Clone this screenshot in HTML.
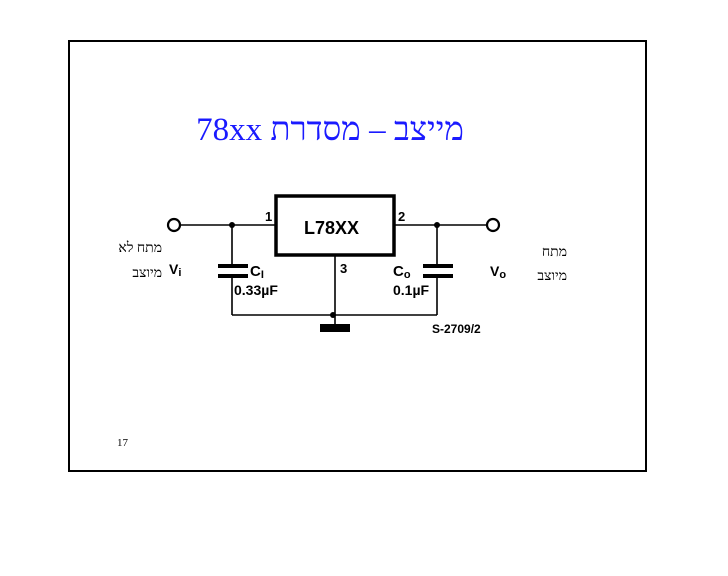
<!DOCTYPE html>
<html><head><meta charset="utf-8"><style>
body{margin:0;width:728px;height:576px;background:#fff;position:relative;overflow:hidden}
.f{position:absolute;left:68px;top:40px;width:575px;height:428px;border:2px solid #000}
.t{position:absolute;font-family:"Liberation Serif","Noto Serif CJK SC",serif;direction:rtl;white-space:nowrap}
</style></head><body>
<div class="f"></div>
<div class="t" style="left:192px;width:276px;top:112px;font-size:33px;color:#1a1aff;text-align:center">מייצב – מסדרת 78xx</div>
<div class="t" style="right:566px;top:241px;font-size:14px">מתח לא</div>
<div class="t" style="right:566px;top:266px;font-size:14px">מיוצב</div>
<div class="t" style="right:161px;top:245px;font-size:14px">מתח</div>
<div class="t" style="right:161px;top:269px;font-size:14px">מיוצב</div>
<div class="t" style="left:117px;top:437px;font-size:11px;direction:ltr">17</div>
<svg width="728" height="576" style="position:absolute;left:0;top:0" font-family="Liberation Sans,sans-serif" font-weight="bold">
<g stroke="#000" fill="none" stroke-width="1.6">
<circle cx="174" cy="225" r="6" stroke-width="2.2"/>
<circle cx="493" cy="225" r="6" stroke-width="2.2"/>
<line x1="180" y1="225" x2="276" y2="225"/>
<line x1="394" y1="225" x2="487" y2="225"/>
<rect x="276" y="196" width="118" height="59" stroke-width="3.5"/>
<line x1="232" y1="225" x2="232" y2="265"/>
<line x1="232" y1="277" x2="232" y2="315"/>
<line x1="437" y1="225" x2="437" y2="265"/>
<line x1="437" y1="277" x2="437" y2="315"/>
<line x1="232" y1="315" x2="437" y2="315"/>
<line x1="335" y1="255" x2="335" y2="325"/>
</g>
<g fill="#000">
<rect x="218" y="264" width="30" height="4"/><rect x="218" y="274" width="30" height="4"/>
<rect x="423" y="264" width="30" height="4"/><rect x="423" y="274" width="30" height="4"/>
<rect x="320" y="324" width="30" height="8"/>
<circle cx="232" cy="225" r="3"/><circle cx="437" cy="225" r="3"/><circle cx="333" cy="315" r="3"/>
<text x="304" y="234" font-size="18">L78XX</text>
<text x="265" y="221" font-size="13">1</text>
<text x="398" y="221" font-size="13">2</text>
<text x="340" y="273" font-size="13">3</text>
<text x="250" y="276" font-size="15">C<tspan font-size="11" dy="2">I</tspan></text>
<text x="234" y="295" font-size="14">0.33µF</text>
<text x="393" y="276" font-size="15">C<tspan font-size="11" dy="2">o</tspan></text>
<text x="393" y="295" font-size="14">0.1µF</text>
<text x="169" y="274" font-size="14">V<tspan font-size="11" dy="2">i</tspan></text>
<text x="490" y="276" font-size="14">V<tspan font-size="11" dy="2">o</tspan></text>
<text x="432" y="333" font-size="12">S-2709/2</text>
</g>
</svg>
</body></html>
